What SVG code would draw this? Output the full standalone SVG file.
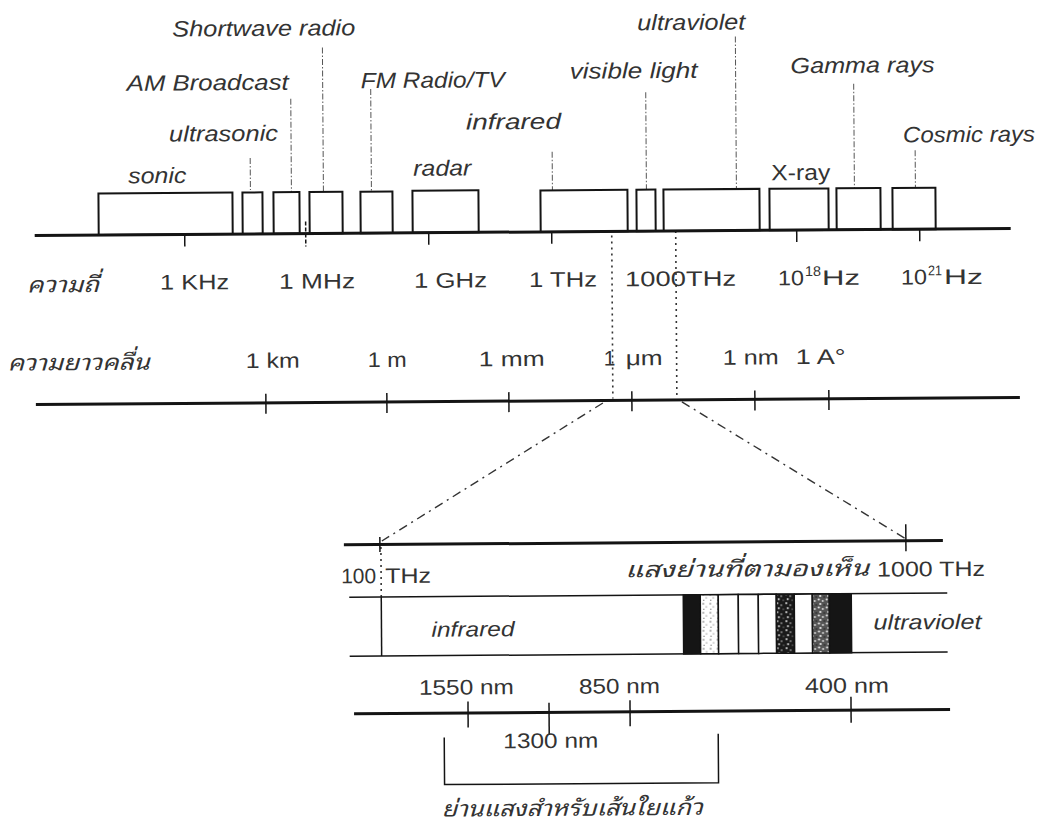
<svg xmlns="http://www.w3.org/2000/svg" width="1055" height="835" viewBox="0 0 1055 835">
<style>
.ax{stroke:#141414;stroke-width:3;fill:none}
.box{fill:#fff;stroke:#141414;stroke-width:2}
.tk{stroke:#141414;stroke-width:1.5}
.ld{stroke:#555;stroke-width:1;stroke-dasharray:6 2 1.5 2;fill:none}
.dt{stroke:#333;stroke-width:1.6;stroke-dasharray:2 4;fill:none}
.dd{stroke:#333;stroke-width:1.4;stroke-dasharray:9 5 2 5;fill:none}
.thin{stroke:#141414;stroke-width:1.5;fill:none}
text{fill:#333}
.it{font-family:"Liberation Sans",Arial,sans-serif;font-size:22px;font-style:italic}
.n{font-family:"Liberation Sans",Arial,sans-serif;font-size:21px}
.sup{font-family:"Liberation Sans",Arial,sans-serif;font-size:14px}
.th{font-family:"Noto Sans Thai Looped","Noto Serif Thai","Noto Sans Thai","DejaVu Sans",sans-serif;font-size:22px;font-style:italic}
</style>
<defs>
<pattern id="sd" patternUnits="userSpaceOnUse" width="9" height="9">
<rect width="9" height="9" fill="#1a1a1a"/>
<circle cx="2" cy="2" r="0.9" fill="#fff"/><circle cx="6" cy="4" r="0.8" fill="#ddd"/><circle cx="3.5" cy="7" r="0.9" fill="#fff"/><circle cx="8" cy="8" r="0.6" fill="#ccc"/>
</pattern>
<pattern id="sm" patternUnits="userSpaceOnUse" width="8" height="8">
<rect width="8" height="8" fill="#555"/>
<circle cx="1.5" cy="1.5" r="1" fill="#fff"/><circle cx="5.5" cy="3" r="0.9" fill="#eee"/><circle cx="3" cy="6" r="1" fill="#fff"/><circle cx="7" cy="7" r="0.7" fill="#111"/>
</pattern>
<pattern id="sl" patternUnits="userSpaceOnUse" width="7" height="9">
<rect width="7" height="9" fill="#fff"/>
<circle cx="2" cy="2" r="0.7" fill="#333"/><circle cx="5" cy="5" r="0.6" fill="#444"/><circle cx="2.5" cy="7.5" r="0.6" fill="#333"/>
</pattern>
</defs>
<rect width="1055" height="835" fill="#fff"/>
<g transform="rotate(-0.4 527 417)">

<g id="connectors">
<line class="ld" x1="252" y1="156" x2="252" y2="188"/>
<line class="ld" x1="293" y1="97" x2="293" y2="201"/>
<line class="ld" x1="325" y1="46" x2="325" y2="203"/>
<line class="ld" x1="373" y1="88" x2="373" y2="206"/>
<line class="ld" x1="554" y1="152" x2="554" y2="201"/>
<line class="ld" x1="648" y1="93" x2="648" y2="206"/>
<line class="ld" x1="738" y1="38" x2="738" y2="202"/>
<line class="ld" x1="856" y1="86" x2="856" y2="199"/>
<line class="ld" x1="917" y1="153" x2="917" y2="198"/>
<line class="dt" x1="613" y1="236" x2="613" y2="399"/>
<line class="dt" x1="677" y1="232" x2="677" y2="399"/>
<line class="dd" x1="603" y1="403.5" x2="381" y2="540"/>
<line class="dd" x1="682" y1="403" x2="905" y2="541.5"/>
<line class="dt" x1="380" y1="546" x2="380" y2="596"/>
</g>

<g id="spectrum-boxes">
<g id="node-sonic"><rect class="box" x="100" y="190.5" width="134" height="41.5"/><text class="it" x="130" y="180.5" textLength="58" lengthAdjust="spacingAndGlyphs">sonic</text></g>
<g id="node-ultrasonic"><rect class="box" x="244" y="190.5" width="20" height="41.5"/><text class="it" x="171" y="139" textLength="109" lengthAdjust="spacingAndGlyphs">ultrasonic</text></g>
<g id="node-am"><rect class="box" x="275" y="190.5" width="26" height="41.5"/><text class="it" x="129" y="88" textLength="162" lengthAdjust="spacingAndGlyphs">AM Broadcast</text></g>
<g id="node-shortwave"><rect class="box" x="311" y="190.5" width="33" height="41.5"/><text class="it" x="175" y="34" textLength="183" lengthAdjust="spacingAndGlyphs">Shortwave radio</text></g>
<g id="node-fm"><rect class="box" x="362" y="190.5" width="32" height="41.5"/><text class="it" x="363" y="87" textLength="144" lengthAdjust="spacingAndGlyphs">FM Radio/TV</text></g>
<g id="node-radar"><rect class="box" x="414" y="190" width="66" height="42"/><text class="it" x="415" y="175" textLength="58" lengthAdjust="spacingAndGlyphs">radar</text></g>
<g id="node-infrared"><rect class="box" x="542" y="190.5" width="87" height="41.5"/><text class="it" x="468" y="129" textLength="95" lengthAdjust="spacingAndGlyphs">infrared</text></g>
<g id="node-visible"><rect class="box" x="638" y="190.5" width="19" height="41.5"/><text class="it" x="572" y="79" textLength="128" lengthAdjust="spacingAndGlyphs">visible light</text></g>
<g id="node-ultraviolet"><rect class="box" x="665" y="190.5" width="96" height="41.5"/><text class="it" x="640" y="31" textLength="108" lengthAdjust="spacingAndGlyphs">ultraviolet</text></g>
<g id="node-xray"><rect class="box" x="771" y="190.5" width="59" height="41.5"/><text class="n" style="font-size:22px" x="773" y="182" textLength="59" lengthAdjust="spacingAndGlyphs">X-ray</text></g>
<g id="node-gamma"><rect class="box" x="838" y="190.5" width="44" height="41.5"/><text class="it" x="793" y="75" textLength="144" lengthAdjust="spacingAndGlyphs">Gamma rays</text></g>
<g id="node-cosmic"><rect class="box" x="894" y="190.5" width="43" height="41.5"/><text class="it" x="905" y="145" textLength="132" lengthAdjust="spacingAndGlyphs">Cosmic rays</text></g>
</g>

<g id="axis-frequency">
<line class="ax" x1="36" y1="232" x2="1012" y2="232"/>
<line class="tk" x1="186" y1="232" x2="186" y2="244"/>
<line class="tk" x1="307" y1="220" x2="307" y2="245" stroke-dasharray="4 2"/>
<line class="tk" x1="430" y1="232" x2="430" y2="244"/>
<line class="tk" x1="553" y1="232" x2="553" y2="244"/>
<line class="tk" x1="798" y1="232" x2="798" y2="244"/>
<line class="tk" x1="921" y1="232" x2="921" y2="244"/>
<text class="th" x="28" y="289" textLength="72" lengthAdjust="spacingAndGlyphs">ความถี่</text>
<text class="n" x="161" y="287" textLength="69" lengthAdjust="spacingAndGlyphs">1 KHz</text>
<text class="n" x="280" y="287" textLength="76" lengthAdjust="spacingAndGlyphs">1 MHz</text>
<text class="n" x="415" y="287" textLength="73" lengthAdjust="spacingAndGlyphs">1 GHz</text>
<text class="n" x="530" y="287" textLength="68" lengthAdjust="spacingAndGlyphs">1 THz</text>
<text class="n" x="626" y="287" textLength="111" lengthAdjust="spacingAndGlyphs">1000THz</text>
<text class="n" x="779" y="287" textLength="26" lengthAdjust="spacingAndGlyphs">10</text>
<text class="sup" x="806" y="278" textLength="16" lengthAdjust="spacingAndGlyphs">18</text>
<text class="n" x="823" y="287" textLength="38" lengthAdjust="spacingAndGlyphs">Hz</text>
<text class="n" x="902" y="287" textLength="26" lengthAdjust="spacingAndGlyphs">10</text>
<text class="sup" x="929" y="278" textLength="14" lengthAdjust="spacingAndGlyphs">21</text>
<text class="n" x="945" y="287" textLength="39" lengthAdjust="spacingAndGlyphs">Hz</text>
</g>

<g id="axis-wavelength">
<line class="ax" x1="36" y1="401" x2="1020" y2="401"/>
<line class="tk" x1="266" y1="392" x2="266" y2="412"/>
<line class="tk" x1="387" y1="392" x2="387" y2="412"/>
<line class="tk" x1="509" y1="392" x2="509" y2="412"/>
<line class="tk" x1="632" y1="392" x2="632" y2="412"/>
<line class="tk" x1="755" y1="392" x2="755" y2="412"/>
<line class="tk" x1="829" y1="392" x2="829" y2="412"/>
<text class="th" x="8" y="367" textLength="142" lengthAdjust="spacingAndGlyphs">ความยาวคลื่น</text>
<text class="n" x="246" y="366" textLength="54" lengthAdjust="spacingAndGlyphs">1 km</text>
<text class="n" x="368" y="366" textLength="39" lengthAdjust="spacingAndGlyphs">1 m</text>
<text class="n" x="479" y="366" textLength="66" lengthAdjust="spacingAndGlyphs">1 mm</text>
<text class="n" x="604" y="366">1</text>
<text class="n" x="626" y="366" textLength="37" lengthAdjust="spacingAndGlyphs">μm</text>
<text class="n" x="723" y="366" textLength="56" lengthAdjust="spacingAndGlyphs">1 nm</text>
<text class="n" x="796" y="366" textLength="50" lengthAdjust="spacingAndGlyphs">1 A°</text>
</g>

<g id="axis-zoom-frequency">
<line class="ax" x1="343" y1="543.5" x2="942" y2="543.5"/>
<line class="tk" x1="379" y1="536" x2="379" y2="551"/>
<line class="tk" x1="905" y1="527" x2="905" y2="554"/>
<text class="n" x="340" y="582" textLength="35" lengthAdjust="spacingAndGlyphs">100</text>
<text class="n" x="384" y="582" textLength="46" lengthAdjust="spacingAndGlyphs">THz</text>
<text class="th" x="624" y="578" textLength="244" lengthAdjust="spacingAndGlyphs">แสงย่านที่ตามองเห็น</text>
<text class="n" x="876" y="579" textLength="108" lengthAdjust="spacingAndGlyphs">1000 THz</text>
</g>

<g id="band">
<line class="thin" x1="348" y1="596" x2="946" y2="596"/>
<line class="thin" x1="348" y1="655" x2="946" y2="655"/>
<line class="thin" x1="380" y1="596" x2="380" y2="655"/>
<text class="it" style="font-size:21px" x="430" y="636" textLength="83" lengthAdjust="spacingAndGlyphs">infrared</text>
<text class="it" style="font-size:21px" x="872" y="632" textLength="108" lengthAdjust="spacingAndGlyphs">ultraviolet</text>
</g>

<g id="visible-stripes" stroke="#141414" stroke-width="1.5">
<rect x="682" y="596" width="17" height="59" fill="#151515"/>
<rect x="699" y="596" width="18" height="59" fill="url(#sl)"/>
<rect x="717" y="596" width="20" height="59" fill="#fff"/>
<rect x="737" y="596" width="20" height="59" fill="#fff"/>
<rect x="757" y="596" width="18" height="59" fill="#fff"/>
<rect x="775" y="596" width="18" height="59" fill="url(#sd)"/>
<rect x="793" y="596" width="18" height="59" fill="#fff"/>
<rect x="811" y="596" width="17" height="59" fill="url(#sm)"/>
<rect x="828" y="596" width="22" height="59" fill="#151515"/>
</g>

<g id="axis-zoom-wavelength">
<line class="ax" x1="352" y1="712.5" x2="948" y2="712.5"/>
<line class="tk" x1="466" y1="701" x2="466" y2="727"/>
<line class="tk" x1="547" y1="703" x2="547" y2="735"/>
<line class="tk" x1="628" y1="701" x2="628" y2="727"/>
<line class="tk" x1="849" y1="699" x2="849" y2="725"/>
<text class="n" x="417" y="694" textLength="95" lengthAdjust="spacingAndGlyphs">1550 nm</text>
<text class="n" x="577" y="694" textLength="81" lengthAdjust="spacingAndGlyphs">850 nm</text>
<text class="n" x="803" y="695" textLength="84" lengthAdjust="spacingAndGlyphs">400 nm</text>
<text class="n" x="501" y="748" textLength="95" lengthAdjust="spacingAndGlyphs">1300 nm</text>
</g>

<g id="fiber-window">
<path class="thin" d="M442 737 V784 H716 V735"/>
<text class="th" x="439" y="816" textLength="261" lengthAdjust="spacingAndGlyphs">ย่านแสงสำหรับเส้นใยแก้ว</text>
</g>

</g>
</svg>
